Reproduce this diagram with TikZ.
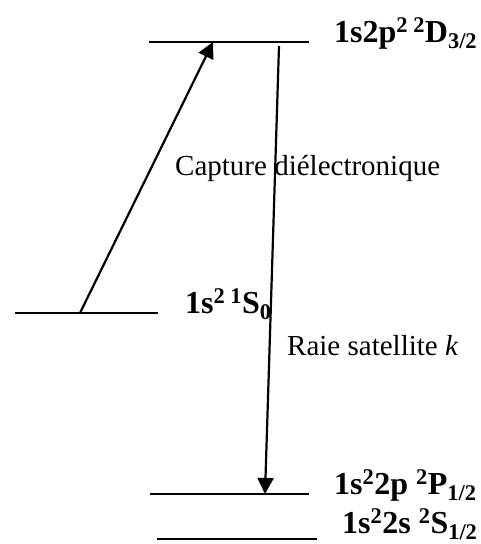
\documentclass[tikz,border=0pt]{standalone}
\usepackage{fontspec}
\setmainfont{Liberation Serif}
\usetikzlibrary{arrows.meta,positioning}

\begin{document}
\begin{tikzpicture}[x=1pt,y=-1pt,
  level/.style={line width=1.2pt},
  term/.style={anchor=base west, inner sep=0pt, font=\fontsize{32}{36}\selectfont\bfseries},
  lab/.style={anchor=base west, inner sep=0pt, font=\fontsize{29}{34}\selectfont},
  trans/.style={-{Triangle[length=16pt,width=16pt]}, line width=2.2pt}]
  \useasboundingbox (0,0) rectangle (480,544);
  % level ends
  \coordinate (dL) at (149,42);  \coordinate (dR) at (309,42);
  \coordinate (sL) at (15,313);  \coordinate (sR) at (158,313);
  \coordinate (pL) at (150,494); \coordinate (pR) at (309,494);
  \coordinate (gL) at (157,539); \coordinate (gR) at (317,539);
  % levels
  \draw[level] (dL) -- (dR);
  \draw[level] (sL) -- (sR);
  \draw[level] (pL) -- (pR);
  \draw[level] (gL) -- (gR);
  % term labels
  \node[term] (dT) at (334,42)  {1s2p\textsuperscript{2 2}D\textsubscript{3/2}};
  \node[term] (sT) at (185,313) {1s\textsuperscript{2 1}S\textsubscript{0}};
  \node[term] (pT) at (334,494) {1s\textsuperscript{2}2p \textsuperscript{2}P\textsubscript{1/2}};
  \node[term] (gT) at (342,533) {1s\textsuperscript{2}2s \textsuperscript{2}S\textsubscript{1/2}};
  % transitions
  \coordinate (capA) at (80,313);  \coordinate (capB) at (213,42);
  \coordinate (satA) at (279,46);  \coordinate (satB) at (265,494);
  \draw[trans] (capA) -- (capB);
  \draw[trans] (satA) -- (satB);
  \node[lab] (capT) at (175,175) {Capture diélectronique};
  \node[lab] (satT) at (287,355) {Raie satellite \textit{k}};
\end{tikzpicture}
\end{document}
